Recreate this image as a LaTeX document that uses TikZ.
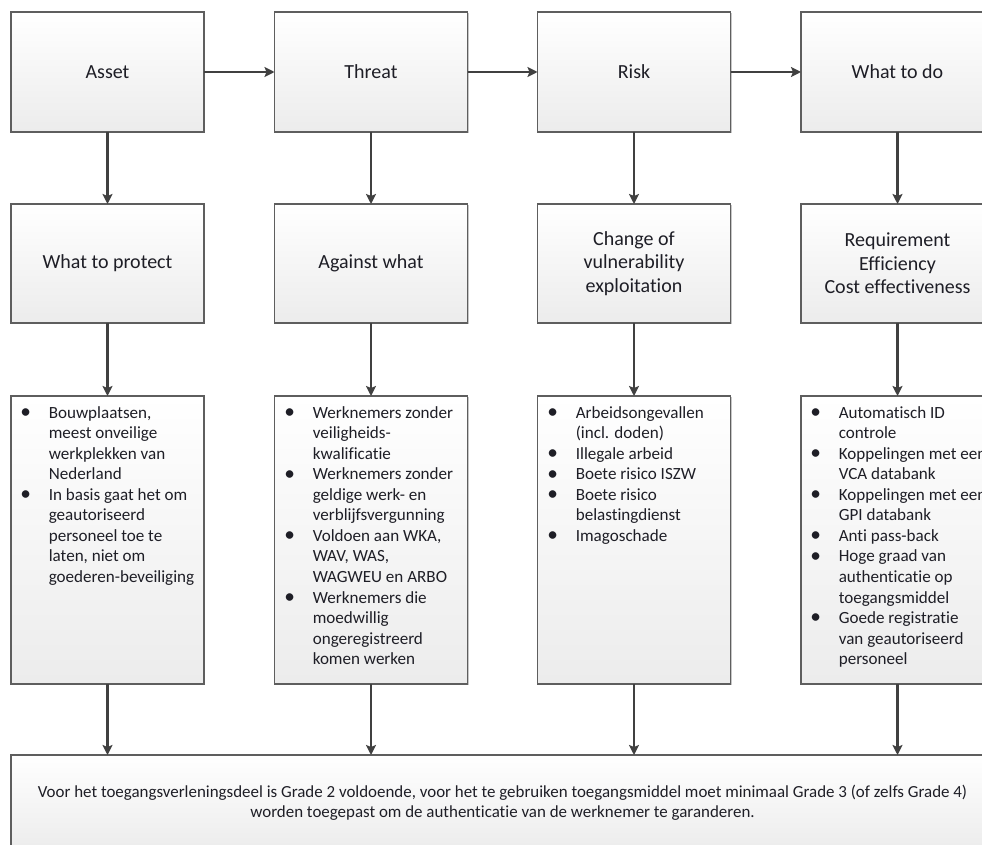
\documentclass[tikz,border=0pt]{standalone}
\usepackage{fontspec}
\setmainfont{Carlito}[Ligatures={NoCommon,NoContextual}]
\usetikzlibrary{arrows.meta,shadows}
\definecolor{txt}{HTML}{1E1E26}
\definecolor{brd}{HTML}{5E5E5E}
\definecolor{arr}{HTML}{404040}
\newcommand\lbul{\raisebox{-0.3pt}{\scalebox{1.25}{\textbullet}}}
\begin{document}
\begin{tikzpicture}[x=0.75pt,y=-0.75pt,
 box/.style={draw=brd, line width=0.8pt, top color=white, bottom color=gray!15,
   drop shadow={shadow xshift=1.1pt,shadow yshift=-1.1pt,opacity=0.22,fill=black},
   inner sep=0pt, outer sep=0pt, font=\fontsize{15}{17.6}\selectfont, text=txt, align=center,
   minimum width=144.75pt},
 conn/.style={draw=arr, line width=1.6pt, -{Stealth[length=7.5pt,width=7.5pt,inset=1.5pt]}},
 lst/.style={anchor=north west, inner sep=0pt, text=txt, font=\fontsize{12.8}{15.4}\selectfont},
 rowa/.style={box, minimum height=90pt},
 rowb/.style={box, minimum height=89.25pt},
 rowc/.style={box, minimum height=216pt}]
\useasboundingbox (0,0) rectangle (982,845);
\clip (0,0) rectangle (982,845);
\fill[white] (0,0) rectangle (982,845);

% row 1
\node[rowa] (a1) at (107.5,72) {Asset};
\node[rowa] (a2) at (371,72) {Threat};
\node[rowa] (a3) at (634,72) {Risk};
\node[rowa] (a4) at (897.5,72) {What to do};
% row 2
\node[rowb] (b1) at (107.5,263.5) {What to protect};
\node[rowb] (b2) at (371,263.5) {Against what};
\node[rowb] (b3) at (634,263.5) {Change of\\vulnerability\\exploitation};
\node[rowb] (b4) at (897.5,263.5) {Requirement\\Efficiency\\Cost effectiveness};
% row 3
\node[rowc] (c1) at (107.5,540) {};
\node[rowc] (c2) at (371,540) {};
\node[rowc] (c3) at (634,540) {};
\node[rowc] (c4) at (897.5,540) {};
% bottom
\node[box, minimum width=737.25pt, minimum height=72pt] (d) at (502.5,803) {};

% lists
\node[lst] (l1) at (20,403.6) {\begin{tabular}{@{}p{21.4pt}@{}l@{}}
\lbul & Bouwplaatsen,\\ & meest onveilige\\ & werkplekken van\\ & Nederland\\
\lbul & In basis gaat het om\\ & geautoriseerd\\ & personeel toe te\\ & laten, niet om\\ & goederen-beveiliging
\end{tabular}};
\node[lst] (l2) at (284,403.6) {\begin{tabular}{@{}p{21.4pt}@{}l@{}}
\lbul & Werknemers zonder\\ & veiligheids-\\ & kwalificatie\\
\lbul & Werknemers zonder\\ & geldige werk- en\\ & verblijfsvergunning\\
\lbul & Voldoen aan WKA,\\ & WAV, WAS,\\ & WAGWEU en ARBO\\
\lbul & Werknemers die\\ & moedwillig\\ & ongeregistreerd\\ & komen werken
\end{tabular}};
\node[lst] (l3) at (547,403.6) {\begin{tabular}{@{}p{21.4pt}@{}l@{}}
\lbul & Arbeidsongevallen\\ & (incl. doden)\\
\lbul & Illegale arbeid\\
\lbul & Boete risico ISZW\\
\lbul & Boete risico\\ & belastingdienst\\
\lbul & Imagoschade
\end{tabular}};
\node[lst] (l4) at (810,403.6) {\begin{tabular}{@{}p{21.4pt}@{}l@{}}
\lbul & Automatisch ID\\ & controle\\
\lbul & Koppelingen met een\\ & VCA databank\\
\lbul & Koppelingen met een\\ & GPI databank\\
\lbul & Anti pass-back\\
\lbul & Hoge graad van\\ & authenticatie op\\ & toegangsmiddel\\
\lbul & Goede registratie\\ & van geautoriseerd\\ & personeel
\end{tabular}};
\node[text=txt, align=center, inner sep=0pt, font=\fontsize{12.7}{15.3}\selectfont] (dt) at (502.5,803)
 {Voor het toegangsverleningsdeel is Grade 2 voldoende, voor het te gebruiken toegangsmiddel moet minimaal Grade 3 (of zelfs Grade 4)\\
  worden toegepast om de authenticatie van de werknemer te garanderen.};

% connectors
\draw[conn] (a1) -- (a2);
\draw[conn] (a2) -- (a3);
\draw[conn] (a3) -- (a4);
\foreach \i in {1,2,3,4}{
  \draw[conn] (a\i.south) -- (b\i.north);
  \draw[conn] (b\i.south) -- (c\i.north);
  \draw[conn] (c\i.south) -- (c\i.south |- d.north);
}
\end{tikzpicture}
\end{document}
